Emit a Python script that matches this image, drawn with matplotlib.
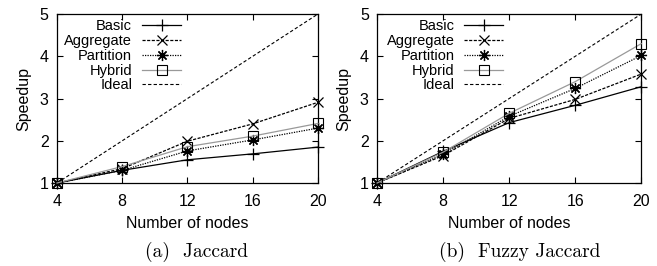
import matplotlib; matplotlib.use("Agg"); import matplotlib.pyplot as plt

nodes = [4, 8, 12, 16, 20]
# (a) Jaccard
jac_basic = [1.0, 1.30, 1.55, 1.69, 1.85]
jac_aggregate = [1.0, 1.34, 1.99, 2.40, 2.91]
jac_partition = [1.0, 1.30, 1.76, 2.02, 2.30]
jac_hybrid = [1.0, 1.39, 1.86, 2.11, 2.41]
# (b) Fuzzy Jaccard
fz_basic = [1.0, 1.75, 2.43, 2.84, 3.28]
fz_aggregate = [1.0, 1.65, 2.53, 2.98, 3.58]
fz_partition = [1.0, 1.68, 2.58, 3.24, 4.02]
fz_hybrid = [1.0, 1.73, 2.65, 3.40, 4.30]
ideal = [1, 2, 3, 4, 5]
captions = ["(a)  Jaccard", "(b)  Fuzzy Jaccard"]

plt.rcParams['font.family'] = ['Liberation Sans', 'DejaVu Sans']
fs = 11.5
fig = plt.figure(figsize=(6.57, 2.66), dpi=100)
pos = [[0.0868, 0.312, 0.397, 0.635], [0.574, 0.312, 0.402, 0.635]]
data = [(jac_basic, jac_aggregate, jac_partition, jac_hybrid),
        (fz_basic, fz_aggregate, fz_partition, fz_hybrid)]
leg_x = [0.496, 0.498]
cap_x = [0.533, 0.538]

for i, (p, (b, a, pt, h), cap) in enumerate(zip(pos, data, captions)):
    ax = fig.add_axes(p)
    kw = dict(clip_on=False, zorder=3)
    ax.plot(nodes, b, color='black', lw=0.9, marker='+', ms=9, mew=0.9, label='Basic', **kw)
    ax.plot(nodes, a, color='black', lw=0.9, ls=(0, (2.5, 1.2)), marker='x', ms=7, mew=0.9, label='Aggregate', **kw)
    ax.plot(nodes, pt, color='black', lw=0.9, ls=(0, (1, 1)), marker=(8, 2, 0), ms=8, mew=0.9, label='Partition', **kw)
    ax.plot(nodes, h, color='#999999', lw=0.9, marker='s', ms=7, mfc='none', mec='black', mew=0.8, label='Hybrid', **kw)
    ax.plot(nodes, ideal, color='black', lw=0.8, ls=(0, (3, 2)), label='Ideal')
    ax.set_xlim(4, 20); ax.set_ylim(1, 5)
    ax.set_xticks(nodes); ax.set_yticks([1, 2, 3, 4, 5])
    ax.tick_params(direction='in', top=True, right=True, labelsize=fs, length=4, width=0.8, pad=6)
    ax.tick_params(axis='x', pad=8)
    for s in ax.spines.values(): s.set_linewidth(0.9)
    ax.set_xlabel('Number of nodes', fontsize=fs, labelpad=5)
    ax.set_ylabel('Speedup', fontsize=fs, labelpad=6)
    ax.legend(loc='upper right', bbox_to_anchor=(leg_x[i], 1.0), frameon=False, markerfirst=False,
              fontsize=10.5, handlelength=2.67, labelspacing=0.05, borderaxespad=0.27,
              borderpad=0.1, handletextpad=0.68)
    ax.text(cap_x[i], -0.41, cap, transform=ax.transAxes, ha='center', va='center',
            fontsize=14, family='cmr10')

fig.savefig("out.png", dpi=100)
